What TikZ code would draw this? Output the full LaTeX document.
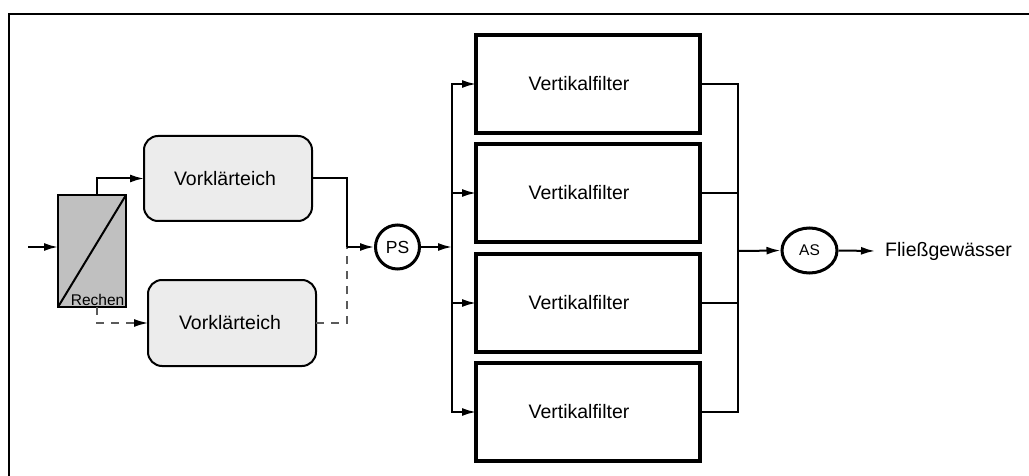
\documentclass[tikz,border=0pt]{standalone}
\usepackage{fontspec}
\setmainfont{Liberation Sans}
\usetikzlibrary{arrows.meta,shapes.geometric}
\definecolor{rechengray}{RGB}{192,192,192}
\definecolor{pondgray}{RGB}{236,236,236}
\definecolor{dashgray}{RGB}{90,90,90}
\begin{document}
\begin{tikzpicture}[x=1pt,y=-1pt,
  conn/.style={line width=2pt},
  arr/.style={conn,-{Latex[length=14pt,width=8pt]}},
  dashline/.style={line width=1.5pt,dashgray,dash pattern=on 8pt off 7pt},
  dasharr/.style={dashline,-{Latex[length=14pt,width=8pt,color=black]}},
  pond/.style={draw,line width=2pt,fill=pondgray,rounded corners=14pt,minimum width=168pt,inner sep=0pt,outer sep=0pt,font=\fontsize{19.5}{22}\selectfont},
  filterbox/.style={draw,line width=4pt,minimum width=224pt,minimum height=98pt,inner sep=0pt,outer sep=0pt,font=\fontsize{19.5}{22}\selectfont},
  lbl/.style={font=\fontsize{19.5}{22}\selectfont}
]
\useasboundingbox (0,0) rectangle (1029,476);
% frame
\draw[line width=2.7pt] (9,476) -- (9,14) -- (1029,14);

% Rechen
\node[draw,line width=2pt,fill=rechengray,minimum width=68pt,minimum height=112pt,inner sep=0pt,outer sep=0pt] (rechen) at (92,251) {};
\draw[line width=2pt] (rechen.south west) -- (rechen.north east);
\node[anchor=south east,inner sep=1.5pt,font=\fontsize{15.5}{17}\selectfont] (rlabel) at (rechen.south east) {Rechen};
\coordinate (in) at (28,247);
\draw[arr] (in) -- (rechen.west |- in);

% ponds
\node[pond,minimum height=85pt] (vk1) at (228,178.5) {Vorklärteich\hspace*{6pt}};
\node[pond,minimum height=86pt] (vk2) at (232,323) {Vorklärteich\hspace*{4pt}};
\draw[arr] ([xshift=5pt]rechen.north) |- (vk1.west);
\draw[dasharr] ([xshift=5pt]rechen.south) |- (vk2.west);

% PS
\node[draw,circle,line width=3pt,minimum size=44pt,inner sep=0pt,font=\fontsize{17.5}{20}\selectfont] (ps) at (397.5,247) {PS};
\coordinate (j1) at (347,247);
\draw[conn] (vk1.east) -| (j1);
\draw[dashline] (vk2.east) -| (j1);
\draw[arr] (j1) -- (ps.west);

% filters
\node[filterbox] (f1) at (588,84) {Vertikalfilter\hspace*{18pt}};
\node[filterbox] (f2) at (588,193) {Vertikalfilter\hspace*{18pt}};
\node[filterbox] (f3) at (588,303) {Vertikalfilter\hspace*{18pt}};
\node[filterbox] (f4) at (588,412) {Vertikalfilter\hspace*{18pt}};
\coordinate (bus) at (452,247);
\draw[arr] (ps.east) -- (bus);
\foreach \f in {f1,f2,f3,f4}{\draw[arr] (bus) |- (\f.west);}

% collector
\coordinate (col) at (738,251);
\foreach \f in {f1,f2,f3,f4}{\draw[line width=1.8pt] (\f.east) -| (col);}

% AS
\node[draw,ellipse,line width=3pt,minimum width=55pt,minimum height=45pt,inner sep=0pt,font=\fontsize{15.5}{18}\selectfont] (as) at (809.5,250.5) {AS};
\draw[arr] (col) -- (as.west);
\node[lbl,anchor=west,inner xsep=10pt,inner ysep=0pt] (out) at (875,251) {Fließgewässer};
\draw[arr] (as.east) -- (out.west);
\end{tikzpicture}
\end{document}
